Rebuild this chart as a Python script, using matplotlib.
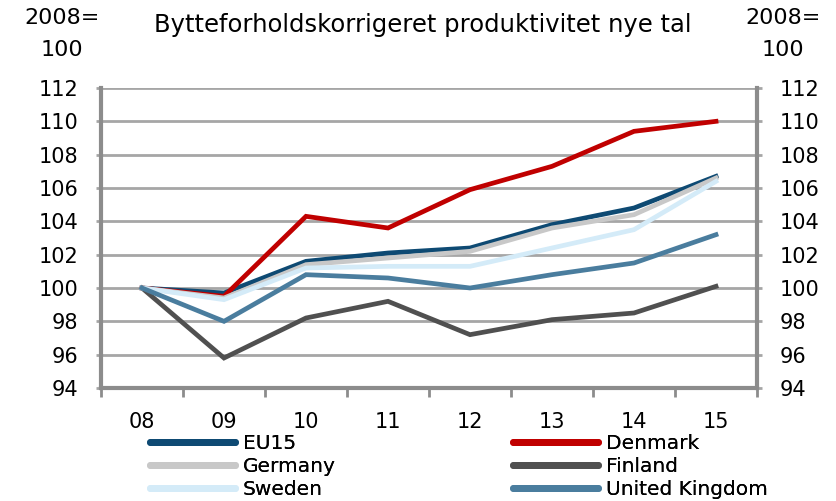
import matplotlib
matplotlib.use("Agg")
import matplotlib.pyplot as plt
from matplotlib.ticker import FixedLocator
import numpy as np

years = ["08", "09", "10", "11", "12", "13", "14", "15"]
eu15 = [100, 99.7, 101.6, 102.1, 102.4, 103.8, 104.8, 106.7]
denmark = [100, 99.5, 104.3, 103.6, 105.9, 107.3, 109.4, 110.0]
germany = [100, 99.4, 101.4, 101.8, 102.2, 103.6, 104.4, 106.6]
finland = [100, 95.8, 98.2, 99.2, 97.2, 98.1, 98.5, 100.1]
sweden = [100, 99.3, 101.2, 101.3, 101.3, 102.4, 103.5, 106.4]
uk = [100, 98.0, 100.8, 100.6, 100.0, 100.8, 101.5, 103.2]
yticks = [94, 96, 98, 100, 102, 104, 106, 108, 110, 112]

series = [
    ("EU15", eu15, "#0e4a73"),
    ("Denmark", denmark, "#c00000"),
    ("Germany", germany, "#c8c8c8"),
    ("Finland", finland, "#505050"),
    ("Sweden", sweden, "#d4ebf8"),
    ("United Kingdom", uk, "#4a7d9e"),
]

plt.rcParams['font.family'] = ['DejaVu Sans']
fig = plt.figure(figsize=(8.36, 5.01), dpi=100)
ax = fig.add_axes([101 / 836, 1 - 388 / 501, 656 / 836, 300 / 501])
x = np.arange(len(years))
handles = {}
for name, vals, col in series:
    h, = ax.plot(x, vals, color=col, lw=3.4, solid_joinstyle='miter', label=name, zorder=3)
    handles[name] = h

ax.set_xlim(-0.5, len(years) - 0.5)
ax.set_ylim(94, 112)
ax.set_yticks(yticks)
ax.set_xticks(x)
ax.set_xticklabels(years)
ax.xaxis.set_minor_locator(FixedLocator(np.arange(-0.5, len(years), 1.0)))
ax.tick_params(axis='x', which='major', length=0, pad=17, labelsize=15)
ax.tick_params(axis='x', which='minor', length=6.5, width=2, color='#8c8c8c', direction='out')
ax.tick_params(axis='y', which='both', length=3.5, width=2, color='#a6a6a6', labelsize=15, pad=13,
               left=True, right=True, labelleft=True, labelright=True)
ax.grid(axis='y', color='#a6a6a6', lw=2, zorder=1)
ax.spines['top'].set_visible(False)
for s in ['left', 'right', 'bottom']:
    ax.spines[s].set_color('#8c8c8c')
    ax.spines[s].set_linewidth(3)

fig.text(62 / 836, 1 - 18 / 501, "2008=", ha='center', va='center', fontsize=16)
fig.text(62 / 836, 1 - 50 / 501, "100", ha='center', va='center', fontsize=16)
fig.text(783 / 836, 1 - 18 / 501, "2008=", ha='center', va='center', fontsize=16)
fig.text(783 / 836, 1 - 50 / 501, "100", ha='center', va='center', fontsize=16)
fig.text(423 / 836, 1 - 25 / 501, "Bytteforholdskorrigeret produktivitet nye tal", ha='center',
         va='center', fontsize=17.5)

cols = [["EU15", "Germany", "Sweden"], ["Denmark", "Finland", "United Kingdom"]]
anchors = [150, 513]
for names, x0 in zip(cols, anchors):
    leg = fig.legend([handles[n] for n in names], names, loc='upper left',
                     bbox_to_anchor=(x0 / 836, 1 - 434 / 501), frameon=False, fontsize=14.5,
                     handlelength=4.2, handletextpad=0.4, labelspacing=0.2,
                     borderaxespad=0, borderpad=0)
    for line in leg.get_lines():
        line.set_linewidth(5)
        line.set_solid_capstyle('round')
    fig.add_artist(leg)

fig.savefig("out.png", dpi=100)
